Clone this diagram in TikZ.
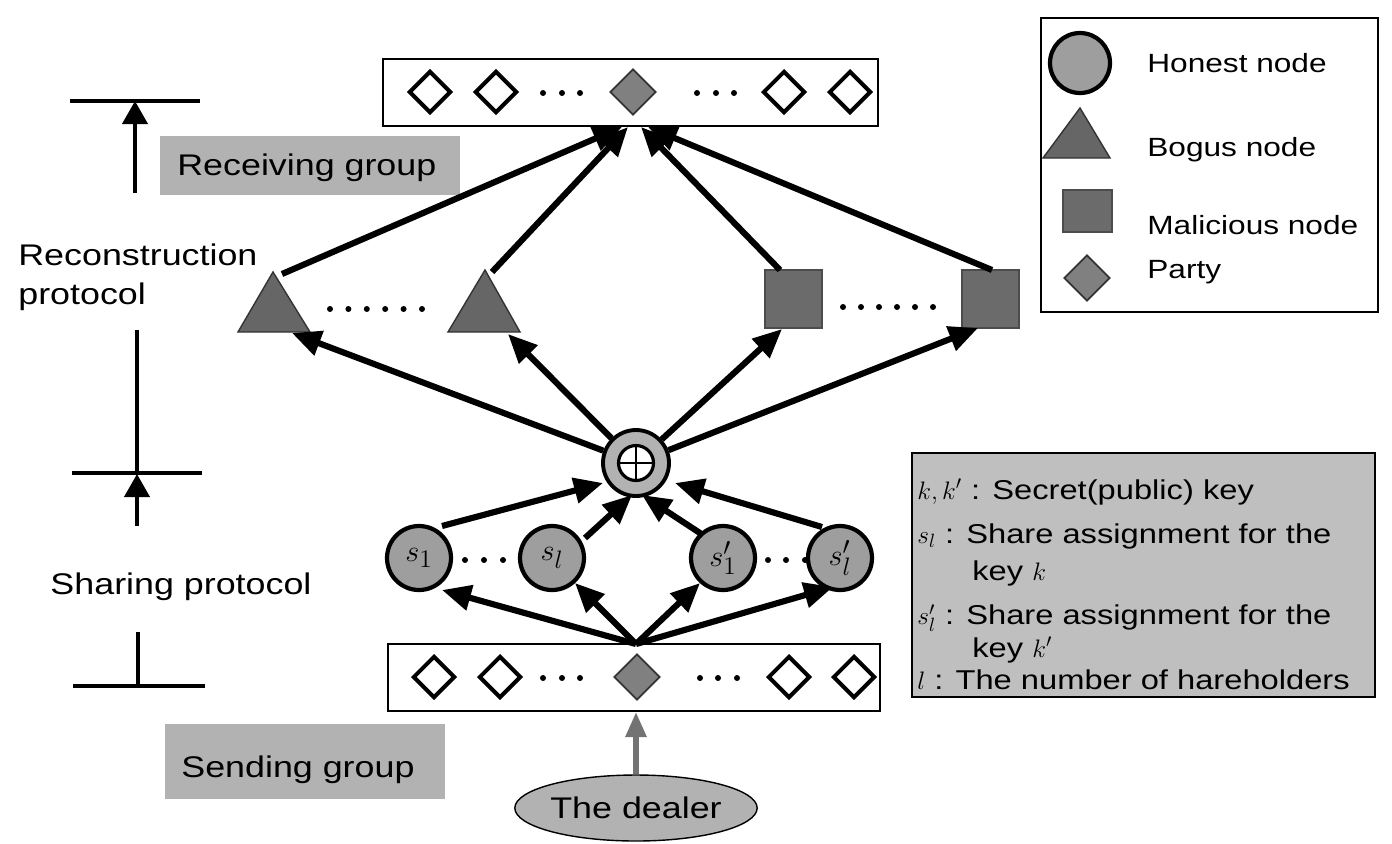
\documentclass[tikz,border=0pt]{standalone}
\usepackage{fontspec}
\setmainfont[FakeStretch=1.2]{Liberation Sans}
\usetikzlibrary{arrows.meta,shapes.geometric,calc}
\begin{document}
\begin{tikzpicture}[x=0.02cm,y=-0.02cm,
  conn/.style={line width=3.5pt,-{Triangle[length=0.58cm,width=0.5cm]}},
  scalearr/.style={line width=2.3pt,-{Triangle[length=0.46cm,width=0.5cm]}},
  bar/.style={line width=2.8pt},
  hollowparty/.style={diamond,draw,line width=2.3pt,inner sep=0pt,minimum width=0.84cm,minimum height=0.84cm},
  party/.style={diamond,draw=black!80,fill=black!50,line width=1pt,inner sep=0pt,minimum width=0.92cm,minimum height=0.92cm},
  honest/.style={circle,draw,line width=2.4pt,fill=black!38,inner sep=0pt,minimum size=1.28cm,font=\fontsize{19}{19}\selectfont},
  malicious/.style={rectangle,fill=black!58,draw=black!70,line width=0.6pt,inner sep=0pt},
  bogus/.style={fill=black!60,draw=black!80,line width=0.8pt},
  groupbox/.style={fill=black!30,inner sep=0pt},
  bigtext/.style={font=\fontsize{17}{23.8}\selectfont,inner sep=0pt},
  legtext/.style={font=\fontsize{15}{18}\selectfont,anchor=west,inner sep=0pt},
  infotext/.style={font=\fontsize{15.5}{18}\selectfont,anchor=west,inner sep=0pt},
  dot/.style={circle,fill,inner sep=0pt,minimum size=0.12cm}
]
\useasboundingbox (0,0) rectangle (1392,843);

% ---------------- left-hand scale ----------------
\coordinate (bar1L) at (70,101);  \coordinate (bar1R) at (200,101);
\coordinate (bar2L) at (72,473);  \coordinate (bar2R) at (202,473);
\coordinate (bar3L) at (73,686);  \coordinate (bar3R) at (205,686);
\coordinate (a1from) at (135,193); \coordinate (a1to) at (135,101);
\coordinate (v1from) at (137,330); \coordinate (v1to) at (137,473);
\coordinate (a2from) at (137,526); \coordinate (a2to) at (137,474);
\coordinate (v2from) at (138,632); \coordinate (v2to) at (138,686);
\draw[bar] (bar1L) -- (bar1R);
\draw[bar] (bar2L) -- (bar2R);
\draw[bar] (bar3L) -- (bar3R);
\draw[scalearr] (a1from) -- (a1to);
\draw[line width=2.3pt] (v1from) -- (v1to);
\draw[scalearr] (a2from) -- (a2to);
\draw[line width=2.3pt] (v2from) -- (v2to);

\node[bigtext,anchor=west] (recon) at (18,255) {Reconstruction};
\node[bigtext,anchor=west] (proto) at (18,297) {protocol};
\node[bigtext] (sharing) at (181,587) {Sharing protocol};

% ---------------- group labels ----------------
\node[groupbox,minimum width=6cm,minimum height=1.18cm] (recvbox) at (310,165.5) {};
\node[bigtext,anchor=west] (recvtext) at (177,168) {Receiving group};
\node[groupbox,minimum width=5.6cm,minimum height=1.5cm] (sendbox) at (305,761) {};
\node[bigtext,anchor=west] (sendtext) at (181,770) {Sending group};

% ---------------- receiving group ----------------
\node[draw,line width=1pt,minimum width=9.9cm,minimum height=1.34cm,inner sep=0pt] (topbox) at (630.5,92.5) {};
\node[hollowparty] (r1) at (430,92) {};
\node[hollowparty] (r2) at (496,92) {};
\node[dot] (rd1) at (543,93) {};
\node[dot] (rd2) at (562,93) {};
\node[dot] (rd3) at (580,93) {};
\node[party] (rp) at (633,92) {};
\node[dot] (rd4) at (697,93) {};
\node[dot] (rd5) at (716,93) {};
\node[dot] (rd6) at (734,93) {};
\node[hollowparty] (r3) at (784,92) {};
\node[hollowparty] (r4) at (850,92) {};

% ---------------- sending group ----------------
\node[draw,line width=1pt,minimum width=9.84cm,minimum height=1.34cm,inner sep=0pt] (botbox) at (634,677.5) {};
\node[hollowparty] (q1) at (434,677) {};
\node[hollowparty] (q2) at (500,677) {};
\node[dot] (qd1) at (543,678) {};
\node[dot] (qd2) at (562,678) {};
\node[dot] (qd3) at (580,678) {};
\node[party] (qp) at (637,677) {};
\node[dot] (qd4) at (700,678) {};
\node[dot] (qd5) at (718,678) {};
\node[dot] (qd6) at (737,678) {};
\node[hollowparty] (q3) at (789,677) {};
\node[hollowparty] (q4) at (854,677) {};

% ---------------- bogus and malicious nodes ----------------
\filldraw[bogus] (273,272) -- (310,332) -- (238,332) -- cycle;
\filldraw[bogus] (485,270) -- (520,332) -- (448,332) -- cycle;
\foreach \i in {0,...,5} { \fill ({330+18.4*\i},309) circle[radius=0.06cm]; }
\node[malicious,minimum width=1.14cm,minimum height=1.16cm] (m1) at (793.5,299) {};
\node[malicious,minimum width=1.14cm,minimum height=1.16cm] (m2) at (990.5,299) {};
\foreach \i in {0,...,5} { \fill ({843+18*\i},307) circle[radius=0.06cm]; }

% ---------------- combiner ----------------
\node[circle,draw,line width=2.2pt,fill=black!30,minimum size=1.32cm,inner sep=0pt] (op) at (636,463) {};
\node[circle,draw,line width=1.8pt,fill=white,minimum size=0.7cm,inner sep=0pt] (opin) at (636,463) {};
\draw[line width=1.6pt] ($(opin.north)+(0,3)$) -- ($(opin.south)+(0,-3)$);
\draw[line width=1.6pt] ($(opin.west)+(3,0)$) -- ($(opin.east)+(-3,0)$);

% ---------------- shareholders ----------------
\node[honest] (s1) at (419,558) {$s_1$};
\node[honest] (sl) at (552,558) {$s_l$};
\node[honest] (t1) at (723,558) {$s'_1$};
\node[honest] (tl) at (840,558) {$s'_l$};
\node[dot] (sd1) at (465,560) {};
\node[dot] (sd2) at (484,560) {};
\node[dot] (sd3) at (503,560) {};
\node[dot] (td1) at (768,560) {};
\node[dot] (td2) at (786,560) {};
\node[dot] (td3) at (805,560) {};

% ---------------- the dealer ----------------
\node[ellipse,draw,line width=0.8pt,fill=black!30,minimum width=4.4cm,minimum height=1.32cm,inner sep=0pt,font=\fontsize{17}{17}\selectfont] (dealer) at (636,808) {The dealer};
\coordinate (dtip) at (636,712);
\draw[line width=3.2pt,black!55,-{Triangle[length=0.5cm,width=0.4cm]}] (dealer.north) -- (dtip);

% ---------------- connector end points ----------------
\coordinate (bsrc) at (636,644);
\coordinate (s1in) at (442,590);
\coordinate (slin) at (575,583);
\coordinate (t1in) at (700,583);
\coordinate (tlin) at (833,587);
\coordinate (s1out) at (442,526);
\coordinate (slout) at (585,538);
\coordinate (t1out) at (703,535);
\coordinate (tlout) at (822,527);
\coordinate (op1) at (603,483);
\coordinate (op2) at (632,495);
\coordinate (op3) at (642,495);
\coordinate (op4) at (675,483);
\coordinate (b1in) at (292,333);
\coordinate (b2in) at (508,334);
\coordinate (m1in) at (782,329);
\coordinate (m2in) at (978,328);
\coordinate (b1out) at (282,274);
\coordinate (b2out) at (492,272);
\coordinate (m1out) at (780,270);
\coordinate (m2out) at (992,270);
\coordinate (rt1) at (622,127);
\coordinate (rt2) at (628,127);
\coordinate (rt3) at (641,127);
\coordinate (rt4) at (648,127);

% ---------------- connectors ----------------
\draw[conn] (bsrc) -- (s1in);
\draw[conn] (bsrc) -- (slin);
\draw[conn] (bsrc) -- (t1in);
\draw[conn] (bsrc) -- (tlin);
\draw[conn] (s1out) -- (op1);
\draw[conn] (slout) -- (op2);
\draw[conn] (t1out) -- (op3);
\draw[conn] (tlout) -- (op4);
\draw[conn] (op) -- (b1in);
\draw[conn] (op) -- (b2in);
\draw[conn] (op) -- (m1in);
\draw[conn] (op) -- (m2in);
\draw[conn] (b1out) -- (rt1);
\draw[conn] (b2out) -- (rt2);
\draw[conn] (m1out) -- (rt3);
\draw[conn] (m2out) -- (rt4);

% ---------------- legend ----------------
\node[draw,line width=0.8pt,minimum width=6.74cm,minimum height=5.88cm,inner sep=0pt] (legend) at (1209.5,165) {};
\node[circle,draw,line width=2.4pt,fill=black!38,minimum size=1.2cm,inner sep=0pt] (lghonest) at (1080,63) {};
\filldraw[bogus] (1080,108) -- (1110,158) -- (1043,158) -- cycle;
\node[malicious,minimum width=0.98cm,minimum height=0.84cm] (lgmal) at (1087.5,211) {};
\node[party] (lgparty) at (1087,278) {};
\node[legtext] (lh) at (1147,63) {Honest node};
\node[legtext] (lb) at (1147,150) {Bogus node};
\node[legtext] (lm) at (1147,225) {Malicious node};
\node[legtext] (lp) at (1147,272) {Party};

% ---------------- notation ----------------
\node[draw,line width=0.8pt,fill=black!25,minimum width=9.26cm,minimum height=4.88cm,inner sep=0pt] (notes) at (1143.5,575) {};
\node[infotext] (n1) at (917,492) {$k,k'$ : Secret(public) key};
\node[infotext] (n2) at (917,536) {$s_l$ : Share assignment for the};
\node[infotext] (n3) at (972,573) {key $k$};
\node[infotext] (n4) at (917,618) {$s'_l$ : Share assignment for the};
\node[infotext] (n5) at (972,650) {key $k'$};
\node[infotext] (n6) at (917,680) {$l$ : The number of hareholders};
\end{tikzpicture}
\end{document}
